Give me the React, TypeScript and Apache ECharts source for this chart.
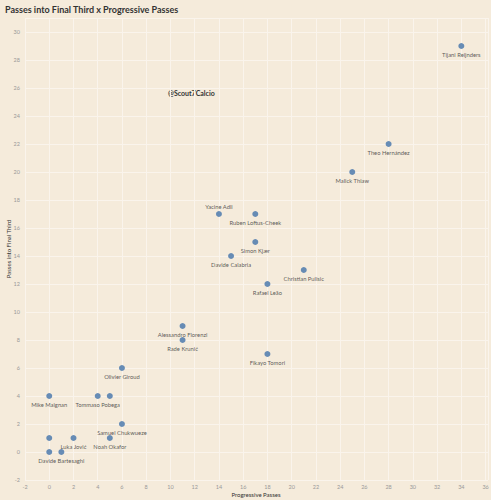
import React, { useEffect, useRef } from "react";
import * as echarts from "echarts";

const players = [
  "Tijani Reijnders", "Theo Hernández", "Malick Thiaw", "Yacine Adli", "Ruben Loftus-Cheek",
  "Simon Kjær", "Davide Calabria", "Christian Pulisic", "Rafael Leão", "Alessandro Florenzi",
  "Rade Krunić", "Fikayo Tomori", "Olivier Giroud", "Mike Maignan", "Tommaso Pobega",
  "", "Samuel Chukwueze", "Luka Jović", "Noah Okafor", "", "Davide Bartesaghi", "",
];
const progressivePasses = [34, 28, 25, 14, 17, 17, 15, 21, 18, 11, 11, 18, 6, 0, 4, 5, 6, 2, 5, 0, 1, 0];
const passesFinalThird = [29, 22, 20, 17, 17, 15, 14, 13, 12, 9, 8, 7, 6, 4, 4, 4, 2, 1, 1, 1, 0, 0];
const labelAbove = ["Yacine Adli"];

const TITLE = "Passes into Final Third x Progressive Passes";
const WATERMARK = "@Scout7Calcio";
const X_NAME = "Progressive Passes";
const Y_NAME = "Passes into Final Third";

const evenOnly = (v: number) => (Number.isInteger(v) && v % 2 === 0 ? String(v) : "");

export default function App() {
  const ref = useRef<HTMLDivElement>(null);
  useEffect(() => {
    if (!ref.current) return;
    document.body.style.margin = "0";
    const chart = echarts.init(ref.current, undefined, { renderer: "svg" });
    const data = players.map((name, i) => ({
      name,
      value: [progressivePasses[i], passesFinalThird[i]],
      label: {
        show: name !== "",
        position: labelAbove.includes(name) ? "top" : "bottom",
        distance: 2,
      },
    }));
    const font = "Lato, 'Noto Sans', sans-serif";
    chart.setOption({
      animation: false,
      backgroundColor: "#f5ebdb",
      textStyle: { fontFamily: font },
      title: {
        text: TITLE,
        left: 0,
        top: 0,
        textStyle: { fontSize: 9, fontWeight: "bold", color: "#333", fontFamily: font },
      },
      graphic: [
        {
          type: "text",
          left: 168,
          top: 89,
          style: { text: WATERMARK, fontSize: 7, fontWeight: "bold", fill: "#333", fontFamily: font },
        },
        {
          type: "text",
          x: 256,
          y: 494,
          style: {
            text: X_NAME,
            fontSize: 6,
            fill: "#333",
            fontFamily: font,
            align: "center",
            verticalAlign: "middle",
          },
        },
      ],
      grid: { left: 25, right: 3, top: 18, bottom: 20, containLabel: false, outerBoundsMode: "none" },
      xAxis: {
        type: "value",
        min: -2,
        max: 36.2,
        interval: 2,
        axisLine: { show: false },
        axisTick: { show: false },
        axisLabel: {
          fontSize: 5.5,
          color: "#999",
          margin: 4,
          formatter: evenOnly,
          showMaxLabel: true,
          hideOverlap: false,
        },
        splitLine: { show: true, lineStyle: { color: "#faf4ec", width: 1 } },
      },
      yAxis: {
        type: "value",
        min: -2,
        max: 31,
        interval: 2,
        name: Y_NAME,
        nameLocation: "middle",
        nameGap: 14,
        nameMoveOverlap: false,
        nameTextStyle: { fontSize: 6, color: "#333" },
        axisLine: { show: false },
        axisTick: { show: false },
        axisLabel: { fontSize: 5.5, color: "#999", margin: 5, formatter: evenOnly },
        splitLine: { show: true, lineStyle: { color: "#faf4ec", width: 1 } },
      },
      series: [
        {
          type: "scatter",
          symbolSize: 6,
          itemStyle: { color: "#4273aa" },
          label: {
            formatter: "{b}",
            fontSize: 5.8,
            color: "#333",
          },
          data,
        },
      ],
    });
    return () => chart.dispose();
  }, []);
  return <div ref={ref} style={{ position: "fixed", left: 0, top: 0, width: 491, height: 500 }} />;
}
